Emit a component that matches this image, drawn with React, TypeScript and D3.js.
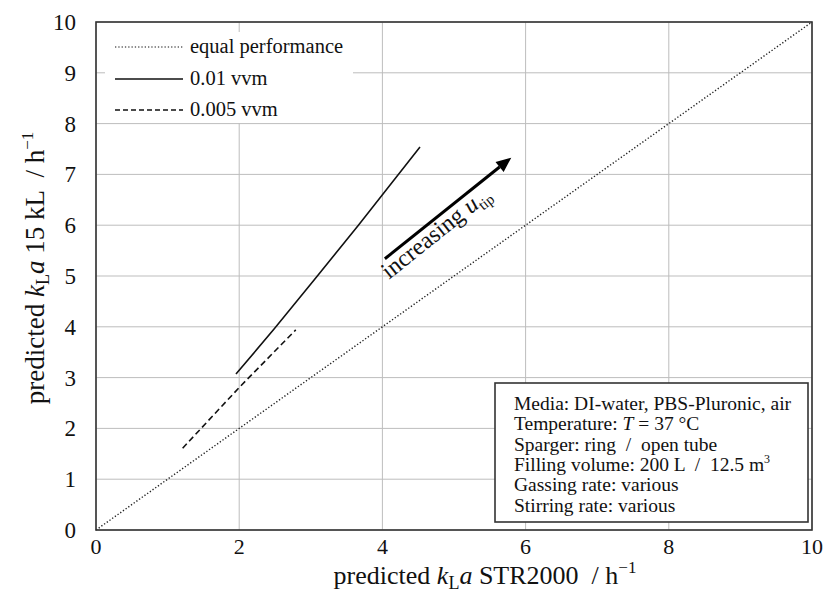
import * as d3 from "d3";

const W = 827;
const H = 599;
const marginLeft = 96;
const marginRight = 15;
const marginTop = 22;
const marginBottom = 69;

const xTicks = [0, 2, 4, 6, 8, 10];
const yTicks = [0, 1, 2, 3, 4, 5, 6, 7, 8, 9, 10];

// equal performance diagonal
const equalX = [0, 10];
const equalY = [0, 10];
// 0.01 vvm
const vvm01X = [1.955, 2.49, 3.08, 3.665, 4.525];
const vvm01Y = [3.07, 3.96, 4.98, 6.0, 7.54];
// 0.005 vvm
const vvm005X = [1.21, 2.01, 2.79];
const vvm005Y = [1.61, 2.82, 3.94];
// arrow "increasing u_tip"
const arrowX = [4.035, 5.8];
const arrowY = [5.34, 7.33];

const legendLabels = ["equal performance", "0.01 vvm", "0.005 vvm"];
const legendDash = ["1.3 2", "none", "5 3"];

const infoLines = [
  "Media: DI-water, PBS-Pluronic, air",
  "Temperature: ",
  "Sparger: ring  /  open tube",
  "Filling volume: 200 L  /  12.5 m",
  "Gassing rate: various",
  "Stirring rate: various",
];

const font = "'Liberation Serif', 'Times New Roman', serif";

export default function App() {
  const xScale = d3.scaleLinear().domain([0, 10]).range([marginLeft, W - marginRight]);
  const yScale = d3.scaleLinear().domain([0, 10]).range([H - marginBottom, marginTop]);

  const line = d3
    .line<[number, number]>()
    .x((d) => xScale(d[0]))
    .y((d) => yScale(d[1]));

  const zip = (xs: number[], ys: number[]) => xs.map((x, i) => [x, ys[i]] as [number, number]);

  // arrow geometry
  const ax0 = xScale(arrowX[0]);
  const ay0 = yScale(arrowY[0]);
  const ax1 = xScale(arrowX[1]);
  const ay1 = yScale(arrowY[1]);
  const ang = Math.atan2(ay1 - ay0, ax1 - ax0);
  const angDeg = (ang * 180) / Math.PI;
  const headLen = 15;
  const headW = 6.5;
  const bx = ax1 - headLen * Math.cos(ang);
  const by = ay1 - headLen * Math.sin(ang);
  const px = -Math.sin(ang);
  const py = Math.cos(ang);
  const head = `M${ax1},${ay1} L${bx + px * headW},${by + py * headW} L${bx + px * 2},${by + py * 2} L${bx - px * 2},${by - py * 2} L${bx - px * headW},${by - py * headW} Z`;

  const x0 = xScale(0);
  const x1 = xScale(10);
  const y0 = yScale(0);
  const y1 = yScale(10);

  const legX = 115;
  const legRows = [47, 79, 110];

  const boxL = 495;
  const boxT = 383;
  const boxR = 808;
  const boxB = 522;

  return (
    <svg
      width={W}
      height={H}
      viewBox={`0 0 ${W} ${H}`}
      style={{ position: "absolute", left: 0, top: 0, background: "#fff" }}
      fontFamily={font}
    >
      {/* grid */}
      <g stroke="#bdbdbd" strokeWidth={1}>
        {xTicks.map((t) => (
          <line key={"gx" + t} x1={xScale(t)} x2={xScale(t)} y1={y0} y2={y1} />
        ))}
        {yTicks.map((t) => (
          <line key={"gy" + t} x1={x0} x2={x1} y1={yScale(t)} y2={yScale(t)} />
        ))}
      </g>

      {/* legend background */}
      <rect x={105} y={32} width={248} height={91} fill="#fff" />

      {/* series */}
      <path d={line(zip(equalX, equalY)) || ""} fill="none" stroke="#222" strokeWidth={1.4} strokeDasharray="1.3 2" />
      <path d={line(zip(vvm01X, vvm01Y)) || ""} fill="none" stroke="#111" strokeWidth={1.6} />
      <path d={line(zip(vvm005X, vvm005Y)) || ""} fill="none" stroke="#111" strokeWidth={1.6} strokeDasharray="6 3.5" />

      {/* arrow */}
      <line x1={ax0} y1={ay0} x2={bx} y2={by} stroke="#000" strokeWidth={3} />
      <path d={head} fill="#000" />
      <text
        transform={`translate(${ax0},${ay0}) rotate(${angDeg})`}
        x={-10}
        y={19}
        fontSize={24}
        fill="#111"
      >
        increasing{" "}
        <tspan fontStyle="italic">u</tspan>
        <tspan fontSize={15} dy={5}>tip</tspan>
      </text>

      {/* axes frame */}
      <rect x={x0} y={y1} width={x1 - x0} height={y0 - y1} fill="none" stroke="#333" strokeWidth={1.6} />

      {/* y ticks */}
      <g fontSize={23} fill="#111" textAnchor="end">
        {yTicks.map((t) => (
          <text key={"ty" + t} x={76} y={yScale(t) + 8}>
            {t}
          </text>
        ))}
      </g>
      {/* x ticks */}
      <g fontSize={22} fill="#111" textAnchor="middle">
        {xTicks.map((t) => (
          <text key={"tx" + t} x={xScale(t)} y={554}>
            {t}
          </text>
        ))}
      </g>

      {/* axis titles */}
      <text x={485} y={584} fontSize={26} textAnchor="middle" fill="#111" xmlSpace="preserve">
        predicted <tspan fontStyle="italic">k</tspan>
        <tspan fontSize={18} dy={5}>L</tspan>
        <tspan fontStyle="italic" dy={-5}>a</tspan>{" STR2000  / h"}
        <tspan fontSize={17} dy={-11}>−1</tspan>
      </text>
      <text transform="translate(44,268) rotate(-90)" fontSize={27} textAnchor="middle" fill="#111" xmlSpace="preserve">
        predicted <tspan fontStyle="italic">k</tspan>
        <tspan fontSize={18} dy={5}>L</tspan>
        <tspan fontStyle="italic" dy={-5}>a</tspan>{" 15 kL  / h"}
        <tspan fontSize={17} dy={-11}>−1</tspan>
      </text>

      {/* legend */}
      {legendLabels.map((lab, i) => (
        <g key={lab}>
          <line
            x1={legX}
            x2={183}
            y1={legRows[i]}
            y2={legRows[i]}
            stroke="#111"
            strokeWidth={i === 0 ? 1.2 : 1.6}
            strokeDasharray={legendDash[i]}
          />
          <text x={190} y={legRows[i] + 6} fontSize={20.5} fill="#111">
            {lab}
          </text>
        </g>
      ))}

      {/* info box */}
      <rect x={boxL} y={boxT} width={boxR - boxL} height={boxB - boxT} fill="#fff" stroke="#333" strokeWidth={1.6} />
      <g fontSize={19.5} fill="#111">
        {infoLines.map((l, i) => (
          <text key={i} x={514} y={410 + i * 20.3} xmlSpace="preserve">
            {l}
            {i === 1 ? (
              <>
                <tspan fontStyle="italic">T</tspan> = 37 °C
              </>
            ) : null}
            {i === 3 ? <tspan fontSize={12} dy={-8}>3</tspan> : null}
          </text>
        ))}
      </g>
    </svg>
  );
}
